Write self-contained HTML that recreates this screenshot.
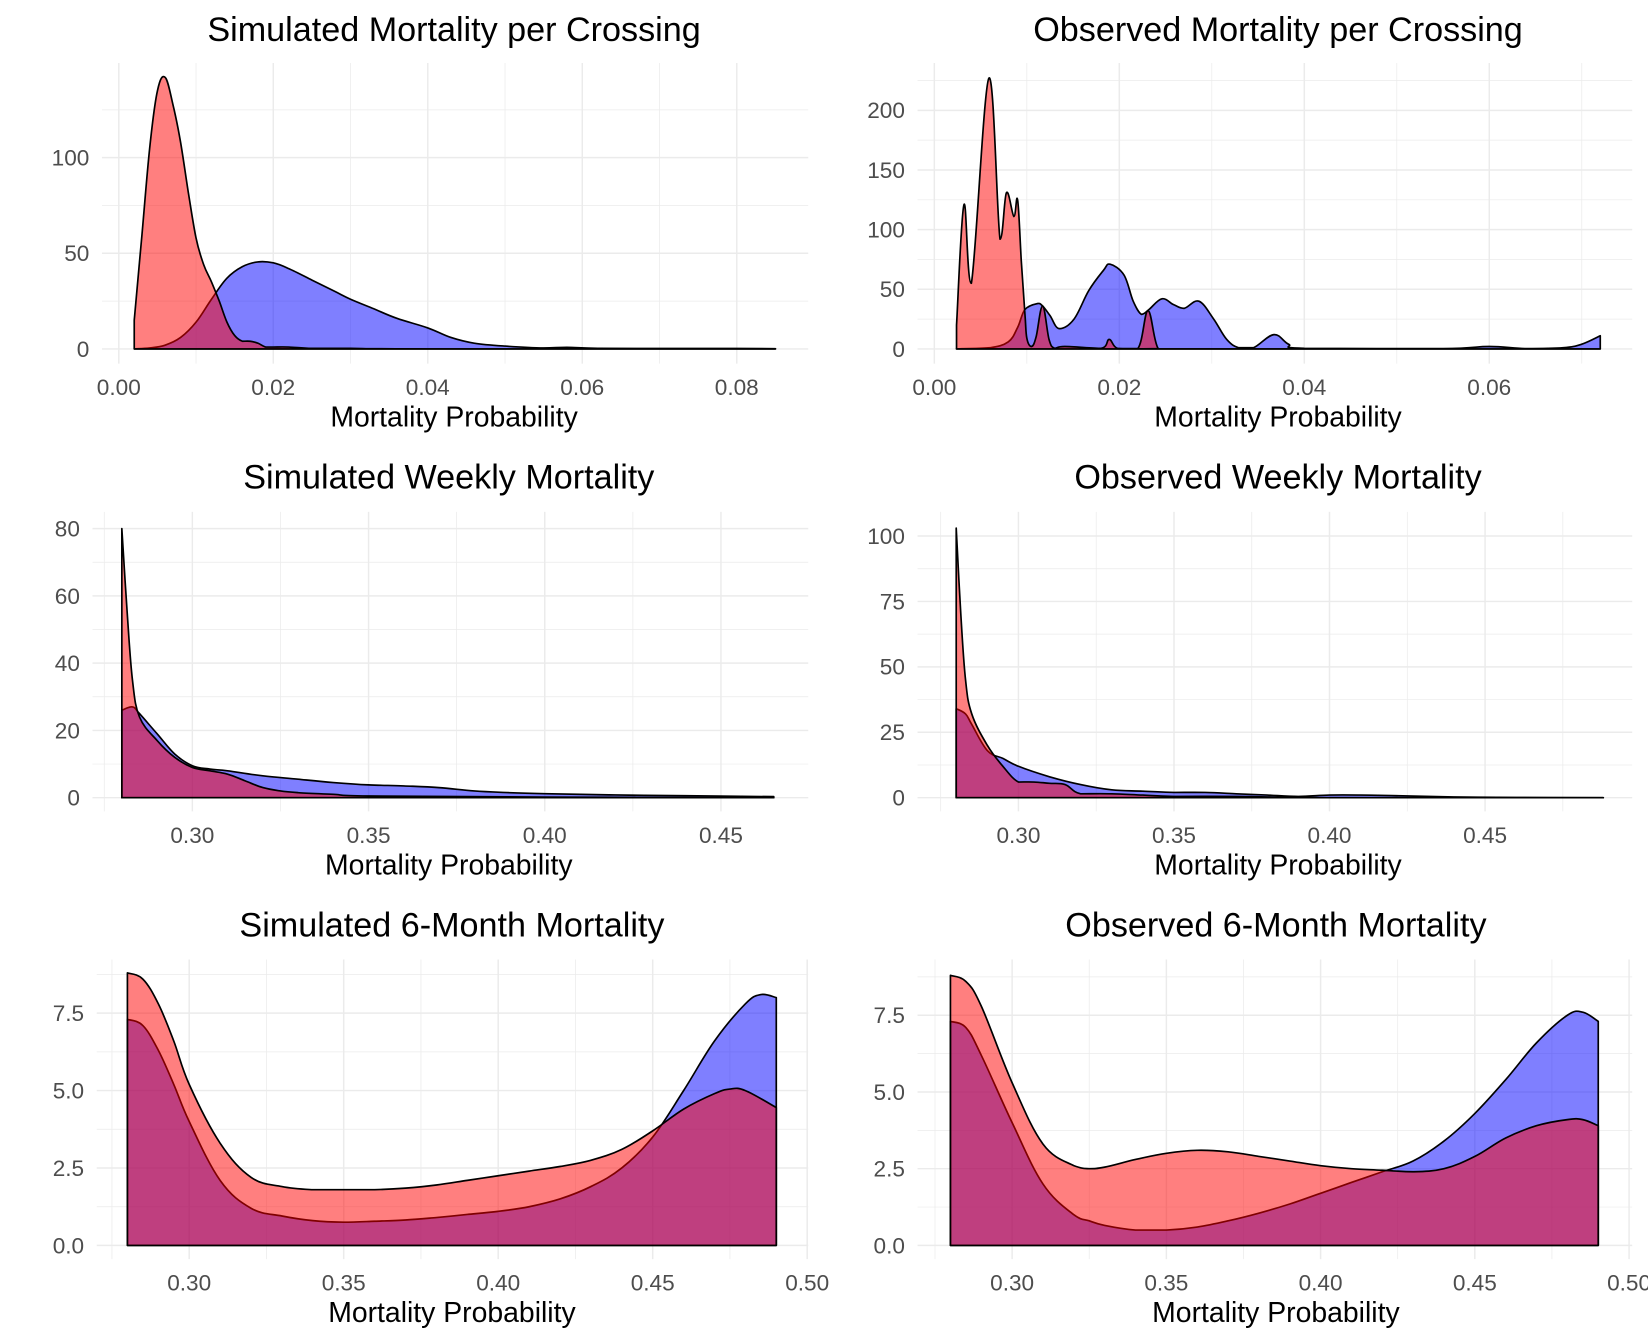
<!DOCTYPE html>
<html><head><meta charset="utf-8"><style>
html,body{margin:0;padding:0;background:#fff;}
svg{display:block;}
text{font-family:"Liberation Sans",Arial,sans-serif;}
</style></head>
<body>
<svg id="chart" width="1648" height="1344" viewBox="0 0 1568 1278.8" xmlns="http://www.w3.org/2000/svg"></svg>
<script>
// Panel 1: simulated per crossing
const p1X = [0.002,0.003,0.004,0.005,0.006,0.007,0.008,0.009,0.010,0.011,0.012,0.013,0.014,0.015,0.016,0.017,0.018,0.019,0.020,0.022,0.025,0.030,0.040,0.085];
const p1Red = [15,60,105,135,142,128,108,82,58,44,35,25,14,7,4,4,3,1,1,1,0.3,0.3,0,0];
const p1BX = [0.002,0.004,0.006,0.008,0.010,0.012,0.014,0.016,0.018,0.020,0.022,0.025,0.028,0.030,0.033,0.036,0.040,0.043,0.046,0.050,0.055,0.058,0.062,0.070,0.080,0.085];
const p1Blue = [0,0.5,2,6,14,26,37,43,45.5,45,42,36,30,26,21,16,11,6,3,1.5,0.5,0.8,0.3,0.2,0.2,0.1];
// Panel 2: observed per crossing
const p2RX = [0.0024,0.0032,0.0040,0.0059,0.0071,0.0078,0.0086,0.0090,0.0094,0.0098,0.0100,0.0105,0.0110,0.0117,0.0124,0.0130,0.0141,0.0180,0.0189,0.0198,0.0220,0.0231,0.0242,0.0260,0.0720];
const p2Red = [20,121,55,227,92,131,111,125,74,29,9,2,10,36,8,0.5,2,0.5,8,0.5,0.3,32,0.3,0,0];
const p2BX = [0.0024,0.003,0.006,0.008,0.009,0.0098,0.0111,0.0117,0.0125,0.0135,0.0151,0.0167,0.0183,0.019,0.0205,0.0215,0.0224,0.0232,0.0246,0.0259,0.027,0.0286,0.0302,0.0316,0.0329,0.0345,0.0367,0.0383,0.040,0.055,0.060,0.064,0.068,0.070,0.072];
const p2Blue = [0,0.2,1,6,18,33,38,36,28,17,25,49,66,71,62,40,29,33,42,37,34,40,25,8,1,1,12,4,0.5,0.3,2,0.3,1,4,11];
// Panel 3: simulated weekly
const p3RX = [0.28,0.2815,0.283,0.285,0.29,0.295,0.30,0.305,0.31,0.315,0.32,0.325,0.33,0.34,0.35,0.40,0.465];
const p3Red = [80,55,35,24,17,12,9,8,7,5,3,2,1.5,1,0.5,0.2,0];
const p3BX = [0.28,0.283,0.285,0.29,0.295,0.30,0.305,0.31,0.32,0.33,0.34,0.35,0.36,0.37,0.38,0.39,0.40,0.42,0.44,0.465];
const p3Blue = [26,27,25,19,13,9.5,8.5,8,6.5,5.5,4.5,3.8,3.5,3,2,1.5,1.2,0.8,0.6,0.3];
// Panel 4: observed weekly
const p4RX = [0.28,0.2815,0.283,0.285,0.29,0.295,0.30,0.305,0.31,0.315,0.32,0.33,0.34,0.35,0.37,0.38,0.40,0.488];
const p4Red = [103,70,45,32,20,12,6,6,5.5,5,1.5,1.5,1,0.5,0.5,0.3,0,0];
const p4BX = [0.28,0.283,0.285,0.29,0.295,0.30,0.31,0.32,0.33,0.34,0.35,0.36,0.37,0.38,0.39,0.40,0.41,0.42,0.44,0.46,0.488];
const p4Blue = [34,32,28,18,15,12,8,5,3,2.5,2,2,1.5,1,0.5,1,1,0.8,0.3,0.1,0];
// Panel 5: simulated 6-month
const p5X = [0.28,0.285,0.29,0.295,0.30,0.31,0.32,0.33,0.34,0.35,0.36,0.37,0.38,0.39,0.40,0.41,0.42,0.43,0.44,0.45,0.46,0.47,0.475,0.48,0.49];
const p5Red = [8.8,8.6,7.8,6.6,5.2,3.3,2.2,1.9,1.8,1.8,1.8,1.85,1.95,2.1,2.25,2.4,2.55,2.75,3.1,3.7,4.4,4.9,5.05,5.0,4.45];
const p5BX = [0.28,0.285,0.29,0.295,0.30,0.31,0.32,0.33,0.34,0.35,0.36,0.37,0.38,0.39,0.40,0.41,0.42,0.43,0.44,0.45,0.46,0.47,0.48,0.485,0.49];
const p5Blue = [7.3,7.1,6.3,5.2,4.0,2.1,1.2,0.95,0.8,0.75,0.78,0.82,0.9,1.0,1.1,1.25,1.5,1.9,2.5,3.5,5.0,6.6,7.8,8.1,8.0];
// Panel 6: observed 6-month
const p6X = [0.28,0.285,0.29,0.30,0.31,0.32,0.325,0.33,0.34,0.35,0.36,0.37,0.38,0.39,0.40,0.41,0.42,0.43,0.44,0.45,0.46,0.47,0.48,0.485,0.49];
const p6Red = [8.8,8.6,7.8,5.3,3.3,2.6,2.5,2.55,2.8,3.0,3.1,3.05,2.9,2.75,2.6,2.5,2.45,2.4,2.5,2.9,3.5,3.9,4.1,4.1,3.9];
const p6Blue = [7.3,7.1,6.2,4.0,2.0,1.0,0.8,0.65,0.5,0.5,0.6,0.8,1.05,1.35,1.7,2.05,2.4,2.75,3.4,4.3,5.4,6.6,7.5,7.6,7.3];

const p1XTicks=[0,0.02,0.04,0.06,0.08], p1XMinor=[0.01,0.03,0.05,0.07], p1YTicks=[0,50,100], p1YMinor=[25,75,125];
const p2XTicks=[0,0.02,0.04,0.06], p2XMinor=[0.01,0.03,0.05,0.07], p2YTicks=[0,50,100,150,200], p2YMinor=[25,75,125,175,225];
const p3XTicks=[0.30,0.35,0.40,0.45], p3XMinor=[0.275,0.325,0.375,0.425], p3YTicks=[0,20,40,60,80], p3YMinor=[10,30,50,70];
const p4XTicks=[0.30,0.35,0.40,0.45], p4XMinor=[0.275,0.325,0.375,0.425,0.475], p4YTicks=[0,25,50,75,100], p4YMinor=[12.5,37.5,62.5,87.5];
const p5XTicks=[0.30,0.35,0.40,0.45,0.50], p5XMinor=[0.275,0.325,0.375,0.425,0.475], p5YTicks=[0,2.5,5,7.5], p5YMinor=[1.25,3.75,6.25,8.75];
const p6XTicks=[0.30,0.35,0.40,0.45,0.50], p6XMinor=[0.275,0.325,0.375,0.425,0.475], p6YTicks=[0,2.5,5,7.5], p6YMinor=[1.25,3.75,6.25,8.75];

const NS="http://www.w3.org/2000/svg";
const svg=document.getElementById('chart');
function mk(tag,attrs,parent){const e=document.createElementNS(NS,tag);for(const k in attrs)e.setAttribute(k,attrs[k]);(parent||svg).appendChild(e);return e;}

const panels=[
 {name:'sim-crossing',title:'Simulated Mortality per Crossing',cx:432,l:97,r:769,t:60,b:346,x0:113,xs:7350,xo:0,y0:332,ys:1.82,xd:2,yd:0,
  rx:p1X,ry:p1Red,bx:p1BX,by:p1Blue,xt:p1XTicks,xm:p1XMinor,yt:p1YTicks,ym:p1YMinor,tb:39,lb:376,ab:406},
 {name:'obs-crossing',title:'Observed Mortality per Crossing',cx:1216,l:873,r:1553,t:60,b:346,x0:889,xs:8800,xo:0,y0:332,ys:1.135,xd:2,yd:0,
  rx:p2RX,ry:p2Red,bx:p2BX,by:p2Blue,xt:p2XTicks,xm:p2XMinor,yt:p2YTicks,ym:p2YMinor,tb:39,lb:376,ab:406},
 {name:'sim-weekly',title:'Simulated Weekly Mortality',cx:427,l:88,r:769,t:487,b:772,x0:183,xs:3353,xo:0.30,y0:759,ys:3.2,xd:2,yd:0,
  rx:p3RX,ry:p3Red,bx:p3BX,by:p3Blue,xt:p3XTicks,xm:p3XMinor,yt:p3YTicks,ym:p3YMinor,tb:465,lb:802,ab:832},
 {name:'obs-weekly',title:'Observed Weekly Mortality',cx:1216,l:873,r:1553,t:487,b:772,x0:969,xs:2960,xo:0.30,y0:759,ys:2.49,xd:2,yd:0,
  rx:p4RX,ry:p4Red,bx:p4BX,by:p4Blue,xt:p4XTicks,xm:p4XMinor,yt:p4YTicks,ym:p4YMinor,tb:465,lb:802,ab:832},
 {name:'sim-6month',title:'Simulated 6-Month Mortality',cx:430,l:92,r:769,t:913,b:1198,x0:180,xs:2940,xo:0.30,y0:1185,ys:29.47,xd:2,yd:1,
  rx:p5X,ry:p5Red,bx:p5BX,by:p5Blue,xt:p5XTicks,xm:p5XMinor,yt:p5YTicks,ym:p5YMinor,tb:891,lb:1228,ab:1258},
 {name:'obs-6month',title:'Observed 6-Month Mortality',cx:1214,l:873,r:1553,t:913,b:1198,x0:963,xs:2935,xo:0.30,y0:1185,ys:29.2,xd:2,yd:1,
  rx:p6X,ry:p6Red,bx:p6X,by:p6Blue,xt:p6XTicks,xm:p6XMinor,yt:p6YTicks,ym:p6YMinor,tb:891,lb:1228,ab:1258}
];

function smoothPath(pts){
  let d='';
  for(let i=0;i<pts.length-1;i++){
    const p0=pts[Math.max(0,i-1)],p1=pts[i],p2=pts[i+1],p3=pts[Math.min(pts.length-1,i+2)];
    const t=0.18;
    let c1y=p1[1]+(p2[1]-p0[1])*t, c2y=p2[1]-(p3[1]-p1[1])*t;
    const base=Math.max(p1[1],p2[1]);
    c1y=Math.min(c1y,base+0); c2y=Math.min(c2y,base+0);
    const c1x=p1[0]+(p2[0]-p0[0])*t, c2x=p2[0]-(p3[0]-p1[0])*t;
    d+=' C'+c1x.toFixed(1)+','+c1y.toFixed(1)+' '+c2x.toFixed(1)+','+c2y.toFixed(1)+' '+p2[0].toFixed(1)+','+p2[1].toFixed(1);
  }
  return d;
}

panels.forEach(p=>{
  const X=v=>p.x0+(v-p.xo)*p.xs, Y=v=>p.y0-v*p.ys;
  const g=mk('g',{});
  
  
  p.ym.forEach(v=>{const y=Y(v);if(y>p.t&&y<p.b){const e=mk('line',{x1:p.l,x2:p.r,y1:y,y2:y,stroke:'#ebebeb','stroke-width':0.7},g);
    
    }});
  p.xm.forEach(v=>{const x=X(v);if(x>p.l&&x<p.r){const e=mk('line',{x1:x,x2:x,y1:p.t,y2:p.b,stroke:'#ebebeb','stroke-width':0.7},g);
    
    }});
  p.yt.forEach(v=>{const y=Y(v);const e=mk('line',{x1:p.l,x2:p.r,y1:y,y2:y,stroke:'#ebebeb','stroke-width':1.4},g);
    
    
    const t=mk('text',{x:p.l-12,y:y+7.5,'text-anchor':'end','font-size':21.5,fill:'#4d4d4d'},g);t.textContent=v.toFixed(p.yd);
    
    });
  p.xt.forEach(v=>{const x=X(v);const e=mk('line',{x1:x,x2:x,y1:p.t,y2:p.b,stroke:'#ebebeb','stroke-width':1.4},g);
    
    
    const t=mk('text',{x:x,y:p.lb,'text-anchor':'middle','font-size':21.5,fill:'#4d4d4d'},g);t.textContent=v.toFixed(p.xd);
    
    });
  function area(xs,ys,fill,nm){
    const pts=xs.map((v,i)=>[X(v),Y(ys[i])]);
    let d='M'+pts[0][0].toFixed(1)+','+Y(0)+' L'+pts[0][0].toFixed(1)+','+pts[0][1].toFixed(1);
    d+=smoothPath(pts);
    d+=' L'+pts[pts.length-1][0].toFixed(1)+','+Y(0)+' Z';
    const e=mk('path',{d:d,fill:fill,stroke:'#000','stroke-width':1.6,'stroke-linejoin':'round'},g);
    
    
  }
  area(p.bx,p.by,'rgba(0,0,255,0.5)','blue-density');
  area(p.rx,p.ry,'rgba(255,0,0,0.5)','red-density');
  const tt=mk('text',{x:p.cx,y:p.tb,'text-anchor':'middle','font-size':32.5,fill:'#000'},g);tt.textContent=p.title;
  
  
  const at=mk('text',{x:p.cx,y:p.ab,'text-anchor':'middle','font-size':27,fill:'#000'},g);at.textContent='Mortality Probability';
  
  
});
</script>
</body></html>
